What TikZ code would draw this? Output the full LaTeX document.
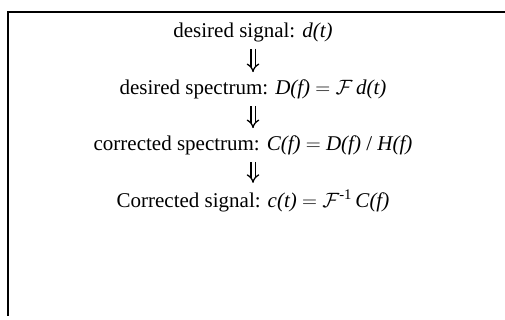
\documentclass[tikz,border=0pt]{standalone}
\usepackage{fontspec}
\setmainfont{Liberation Serif}
\usetikzlibrary{arrows.meta}
\begin{document}
\begin{tikzpicture}[x=1pt, y=-1pt,
  stepline/.style={font=\fontsize{21}{24}\selectfont, inner sep=1pt},
  leadsto/.style={double, double distance=3pt, line width=1.3pt, -{Implies[length=6pt]}, shorten <=6pt, shorten >=6pt}]
  \useasboundingbox (0,0) rectangle (505,320);
  % frame, open to the right and below
  \draw[line width=1.4pt] (505,12) -- (8,12) -- (8,316);

  % the four steps
  \node[stepline] (sig) at (253,32) {desired signal: \textit{d(t)}};
  \node[stepline] (spec) at (253,89) {desired spectrum: \textit{D(f)} $=$ $\mathcal{F}$\,\textit{d(t)}};
  \node[stepline] (corr) at (253,145) {corrected spectrum: \textit{C(f)} $=$ \textit{D(f)} / \textit{H(f)}};
  \node[stepline] (out) at (253,201) {Corrected signal: \textit{c(t)} $=$ $\mathcal{F}$\textsuperscript{-1}\,\textit{C(f)}};

  \draw[leadsto] (sig) -- (spec);
  \draw[leadsto] (spec) -- (corr);
  \draw[leadsto] (corr) -- (out);
\end{tikzpicture}
\end{document}
